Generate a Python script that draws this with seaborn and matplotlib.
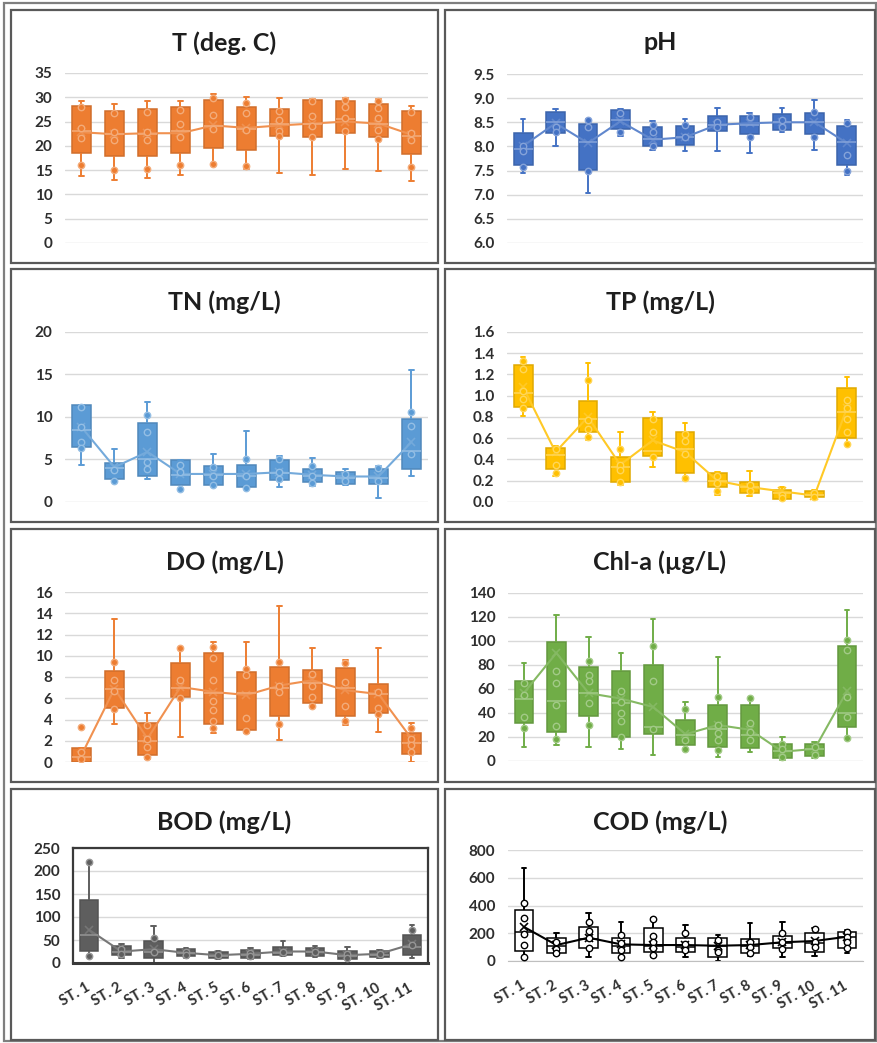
import numpy as np
import pandas as pd
import matplotlib
matplotlib.use("Agg")
import matplotlib.pyplot as plt
import matplotlib.colors as mcolors
from matplotlib.patches import Rectangle
import seaborn as sns

sns.set_style("white")
plt.rcParams['font.family'] = ['Lato', 'DejaVu Sans']

W, H = 878, 1043
stations = ["ST. %d" % i for i in range(1, 12)]

# ---- T (deg. C)
t_lo = [13.7, 13.0, 13.4, 14.1, 16.1, 15.2, 14.4, 14.1, 15.2, 14.8, 12.8]
t_q1 = [18.5, 18.0, 18.0, 18.5, 19.6, 19.2, 22.1, 21.8, 22.6, 21.8, 18.3]
t_med = [23.0, 22.5, 22.5, 23.0, 24.0, 23.5, 24.5, 24.5, 25.5, 24.5, 22.0]
t_q3 = [28.2, 27.2, 27.6, 27.9, 29.4, 28.1, 27.6, 29.4, 29.2, 28.6, 27.2]
t_hi = [29.3, 28.6, 29.2, 29.2, 30.7, 30.0, 29.9, 29.6, 29.9, 29.6, 28.3]
t_mean = [22.8, 22.4, 22.6, 22.6, 24.2, 23.7, 24.2, 24.6, 25.0, 24.6, 22.3]
t_pts = [[28.0, 23.7, 21.6, 16.0], [26.8, 22.8, 21.3, 15.0], [27.0, 22.8, 21.3, 15.2],
         [27.3, 24.6, 21.8, 16.0], [29.8, 26.4, 23.5, 16.3], [28.8, 26.8, 23.3, 15.8],
         [27.1, 25.4, 23.1, 22.0], [29.2, 26.1, 24.0, 21.8], [29.5, 28.1, 25.7, 23.0],
         [29.3, 27.8, 25.7, 23.3, 21.4], [27.0, 22.6, 21.3, 15.6]]

# ---- pH
ph_lo = [7.45, 8.00, 7.03, 8.22, 7.92, 7.90, 7.90, 7.86, 8.30, 7.93, 7.41]
ph_q1 = [7.62, 8.27, 7.52, 8.36, 8.00, 8.02, 8.32, 8.26, 8.34, 8.26, 7.62]
ph_med = [7.95, 8.50, 8.10, 8.55, 8.15, 8.20, 8.45, 8.45, 8.50, 8.50, 8.10]
ph_q3 = [8.27, 8.71, 8.46, 8.76, 8.40, 8.43, 8.62, 8.64, 8.67, 8.70, 8.43]
ph_hi = [8.57, 8.78, 8.57, 8.77, 8.52, 8.57, 8.80, 8.69, 8.80, 8.96, 8.54]
ph_mean = [8.01, 8.48, 8.07, 8.52, 8.14, 8.19, 8.45, 8.48, 8.50, 8.50, 8.07]
ph_pts = [[8.00, 7.90, 7.58], [8.40, 8.30], [8.54, 8.40, 7.50], [8.70, 8.30],
          [8.45, 8.30, 8.00], [8.45, 8.20], [8.50, 8.40], [8.60, 8.20],
          [8.55, 8.40], [8.72, 8.20], [8.48, 7.83, 7.50]]

# ---- TN (mg/L)
tn_lo = [4.3, 2.3, 2.75, 1.5, 1.88, 1.5, 1.76, 1.88, 1.96, 0.5, 3.06]
tn_q1 = [6.47, 2.75, 3.06, 2.04, 1.96, 1.76, 2.55, 2.35, 2.16, 2.08, 3.84]
tn_med = [8.5, 4.0, 5.0, 3.2, 3.2, 3.0, 3.4, 3.0, 2.8, 2.8, 6.0]
tn_q3 = [11.37, 4.6, 9.3, 4.9, 4.2, 4.4, 4.9, 3.84, 3.5, 3.84, 9.8]
tn_hi = [11.45, 6.2, 11.8, 4.9, 5.6, 8.4, 5.4, 5.2, 3.9, 4.2, 15.5]
tn_mean = [8.8, 4.1, 5.9, 3.3, 3.3, 3.3, 3.5, 3.2, 3.0, 3.0, 7.06]
tn_pts = [[11.2, 8.8, 7.1, 6.3], [3.8, 2.5], [10.2, 8.2, 4.7, 3.9], [4.4, 3.5, 1.5],
          [4.1, 3.0, 2.0], [5.0, 3.0, 1.6], [5.1, 3.5, 2.7], [4.2, 3.0, 2.2],
          [3.3, 2.5], [4.0, 2.5], [10.6, 8.9, 5.7]]

# ---- TP (mg/L)
tp_lo = [0.81, 0.24, 0.58, 0.16, 0.33, 0.21, 0.07, 0.06, 0.02, 0.03, 0.54]
tp_q1 = [0.89, 0.31, 0.66, 0.19, 0.43, 0.27, 0.14, 0.08, 0.03, 0.05, 0.60]
tp_med = [1.03, 0.44, 0.78, 0.33, 0.48, 0.50, 0.20, 0.14, 0.08, 0.07, 0.85]
tp_q3 = [1.29, 0.51, 0.95, 0.42, 0.79, 0.66, 0.27, 0.19, 0.11, 0.10, 1.07]
tp_hi = [1.36, 0.53, 1.31, 0.66, 0.85, 0.74, 0.28, 0.29, 0.14, 0.11, 1.18]
tp_mean = [1.08, 0.47, 0.80, 0.35, 0.58, 0.47, 0.20, 0.14, 0.10, 0.06, 0.88]
tp_pts = [[1.33, 1.25, 1.04, 0.97, 0.88], [0.50, 0.35, 0.27], [1.15, 0.77, 0.69, 0.61],
          [0.50, 0.35, 0.30, 0.19], [0.78, 0.66, 0.42], [0.64, 0.57, 0.45, 0.23],
          [0.24, 0.18, 0.10], [0.16, 0.10], [0.07, 0.04], [0.08, 0.05],
          [0.96, 0.88, 0.78, 0.66, 0.55]]

# ---- DO (mg/L)
do_lo = [0.0, 3.6, 0.3, 2.4, 2.7, 2.7, 2.1, 5.2, 3.5, 2.8, 0.0]
do_q1 = [0.0, 5.1, 0.7, 6.1, 3.6, 3.0, 4.3, 5.6, 4.3, 4.6, 0.8]
do_med = [0.5, 6.9, 2.0, 7.0, 6.5, 6.5, 7.0, 7.4, 7.0, 6.4, 1.8]
do_q3 = [1.3, 8.6, 3.7, 9.3, 10.3, 8.5, 8.9, 8.7, 8.85, 7.3, 2.7]
do_hi = [1.3, 13.5, 4.6, 10.7, 11.3, 11.3, 14.65, 10.7, 9.6, 10.7, 3.7]
do_mean = [0.65, 6.9, 2.2, 7.06, 6.6, 6.3, 7.2, 7.7, 6.75, 6.4, 2.2]
do_pts = [[3.3, 0.9, 0.3], [9.4, 7.7, 6.7, 5.0], [3.5, 2.2, 1.4, 0.5], [10.7, 7.7, 6.0],
          [10.8, 9.8, 7.7, 5.7, 4.9, 3.9, 3.2], [8.8, 8.2, 4.1, 2.9], [9.4, 7.2, 6.6, 3.6],
          [8.3, 7.2, 6.1, 5.3], [9.3, 7.5, 5.3, 3.9], [6.6, 5.1, 4.5], [3.2, 2.2, 1.6, 0.9]]

# ---- Chl-a (ug/L)
chl_lo = [12, 13.4, 12, 9.7, 5, 9.2, 3.6, 7.8, 0.8, 2.2, 19]
chl_q1 = [31.4, 24, 37.6, 20.3, 22.5, 13.4, 12, 10.6, 2.2, 4.5, 28]
chl_med = [52, 50, 57, 48, 28, 22, 27, 22, 8, 10, 40]
chl_q3 = [67, 99, 78, 74.6, 80, 34.2, 46.8, 46.8, 14.2, 14, 95.5]
chl_hi = [82, 122, 103, 90, 118, 49.5, 87, 52.3, 20.3, 16, 125.5]
chl_mean = [57, 90, 56.5, 52, 45, 22.3, 30, 26, 7.8, 10, 58]
chl_pts = [[65, 55, 37, 27.3], [75, 64.6, 46.8, 29.5, 18.4], [83, 72, 67, 48, 30],
           [58.7, 49.5, 39.8, 33, 20], [95.5, 67, 27], [43.4, 17.5, 10],
           [53, 30, 23, 17.5, 9.2], [52.3, 32, 24.5, 17.5], [14.5, 10, 3], [12, 5],
           [101, 92.7, 53.7, 37, 19]]

# ---- BOD (mg/L)
bod_lo = [14.5, 11, 0, 11, 9.4, 9.4, 14.5, 12, 0, 11, 11]
bod_q1 = [27, 18, 11, 16, 11, 11, 17, 14.5, 9.4, 12, 17]
bod_med = [60, 25, 25, 22, 15, 18, 22, 24, 15, 18, 35]
bod_q3 = [138, 36, 47, 31, 25, 29, 34, 33, 27, 27, 60]
bod_hi = [220, 41, 80, 33, 27, 33, 47, 36, 34, 29, 83]
bod_mean = [72, 25, 30, 22, 17, 20, 25, 25, 17, 20, 41]
bod_pts = [[220, 14.5], [30, 20], [54, 25], [25, 18], [18], [22, 15], [25], [25],
           [20, 10], [20], [72, 40]]

# ---- COD (mg/L)
cod_lo = [19, 43, 31, 31, 31, 31, 0, 38, 31, 38, 55]
cod_q1 = [74, 60, 91, 55, 67, 67, 31, 55, 91, 67, 91]
cod_med = [210, 110, 160, 110, 110, 100, 110, 110, 130, 130, 170]
cod_q3 = [368, 168, 247, 168, 235, 168, 168, 159, 183, 200, 211]
cod_hi = [668, 200, 348, 283, 307, 260, 187, 271, 283, 235, 223]
cod_mean = [245, 115, 168, 120, 115, 115, 110, 115, 135, 144, 175]
cod_pts = [[415, 312, 192, 115, 31], [140, 90, 60], [280, 216, 163, 91], [187, 127, 79, 31],
           [303, 183, 139, 96, 43], [204, 120, 80], [151, 79, 67], [140, 100, 60],
           [204, 139, 90], [230, 139, 100], [211, 175, 139, 91]]


def tint(c, f):
    r = np.array(mcolors.to_rgb(c))
    return tuple(r + (1 - r) * f)


def shade(c, f):
    return tuple(np.array(mcolors.to_rgb(c)) * (1 - f))


# title, stats, panel frame (x0, y0, x1, y1), axes (x0, y0, x1, y1), ylim, step, fmt, face
panels = [
    ("T (deg. C)", (t_lo, t_q1, t_med, t_q3, t_hi, t_mean, t_pts), (11, 10, 438, 263),
     (65, 73, 428, 243), (0, 35), 5, "%d", "#ED7D31"),
    ("pH", (ph_lo, ph_q1, ph_med, ph_q3, ph_hi, ph_mean, ph_pts), (445, 10, 875, 263),
     (507, 74, 863, 243), (6, 9.5), 0.5, "%.1f", "#4472C4"),
    ("TN (mg/L)", (tn_lo, tn_q1, tn_med, tn_q3, tn_hi, tn_mean, tn_pts), (11, 269, 438, 522),
     (65, 332, 428, 502), (0, 20), 5, "%d", "#5B9BD5"),
    ("TP (mg/L)", (tp_lo, tp_q1, tp_med, tp_q3, tp_hi, tp_mean, tp_pts), (445, 269, 875, 522),
     (507, 332, 863, 502), (0, 1.6), 0.2, "%.1f", "#FFC000"),
    ("DO (mg/L)", (do_lo, do_q1, do_med, do_q3, do_hi, do_mean, do_pts), (11, 529, 438, 782),
     (65, 592, 428, 762), (0, 16), 2, "%d", "#ED7D31"),
    ("Chl-a (\u00b5g/L)", (chl_lo, chl_q1, chl_med, chl_q3, chl_hi, chl_mean, chl_pts),
     (445, 529, 875, 782), (508, 593, 863, 761), (0, 140), 20, "%d", "#70AD47"),
    ("BOD (mg/L)", (bod_lo, bod_q1, bod_med, bod_q3, bod_hi, bod_mean, bod_pts),
     (11, 789, 438, 1040), (73, 848, 428, 963), (0, 250), 50, "%d", "#5E5E5E"),
    ("COD (mg/L)", (cod_lo, cod_q1, cod_med, cod_q3, cod_hi, cod_mean, cod_pts),
     (445, 789, 875, 1040), (508, 850, 863, 961), (0, 800), 200, "%d", "white"),
]

fig = plt.figure(figsize=(W / 100, H / 100), dpi=100)
fig.patch.set_facecolor("white")


def fig_rect(x0, y0, x1, y1):
    return (x0 / W, 1 - y1 / H, (x1 - x0) / W, (y1 - y0) / H)


# outer frame
fig.add_artist(Rectangle((4 / W, 1 - 1041 / H), 872 / W, 1038 / H, transform=fig.transFigure,
                         fill=False, ec="#7F7F7F", lw=1.6))

for title, stats, frame, axbox, ylim, step, fmt, face in panels:
    lo, q1, med, q3, hi, mean, pts = stats
    fx0, fy0, fx1, fy1 = frame
    x, y, w, h = fig_rect(fx0, fy0, fx1, fy1)
    fig.add_artist(Rectangle((x, y), w, h, transform=fig.transFigure,
                             fill=False, ec="#595959", lw=1.6))
    fig.text((fx0 + fx1) / 2 / W, 1 - (fy0 + 33) / H, title, ha="center", va="center",
             fontsize=18, fontweight="bold", color="#1E1E1E")

    ax = fig.add_axes(fig_rect(*axbox))
    is_cod = face == "white"
    if is_cod:
        edge, light, line = "black", "black", "black"
    else:
        edge = shade(face, 0.12)
        light = tint(face, 0.35)
        line = tint(face, 0.15)

    box_df = pd.DataFrame({
        "station": np.repeat(stations, 5),
        "value": np.column_stack([lo, q1, med, q3, hi]).ravel(),
    })
    pts_df = pd.DataFrame({
        "station": [s for s, p in zip(stations, pts) for _ in p],
        "value": [v for p in pts for v in p],
    })

    sns.boxplot(data=box_df, x="station", y="value", order=stations, whis=(0, 100),
                width=0.58, color=face, saturation=1, linecolor=edge, linewidth=1.1,
                showfliers=False, capwidths=0.14,
                medianprops=dict(color=light, linewidth=1.1),
                whiskerprops=dict(color=edge if is_cod else face, linewidth=1.4),
                capprops=dict(color=edge if is_cod else face, linewidth=1.4),
                ax=ax)
    sns.pointplot(x=stations, y=mean, order=stations, color=line, markers="x",
                  linestyles="-", errorbar=None, markersize=6, linewidth=1.5,
                  markeredgewidth=1.2, ax=ax)
    sns.stripplot(data=pts_df, x="station", y="value", order=stations, jitter=False,
                  color=face, edgecolor=light, linewidth=1.0, size=4.6, ax=ax, zorder=5)

    ax.set_xlim(-0.5, 10.5)
    ax.set_ylim(ylim[0], ylim[1])
    ticks = np.arange(ylim[0], ylim[1] + step / 2, step)
    ax.set_yticks(ticks)
    ax.set_yticklabels([fmt % t for t in ticks], fontsize=11, fontweight="bold",
                       color="#2E2E2E")
    ax.tick_params(axis="y", length=0, pad=9)
    ax.yaxis.grid(True, color="#D9D9D9", linewidth=1.0)
    ax.xaxis.grid(False)
    ax.set_axisbelow(True)
    ax.set_xlabel("")
    ax.set_ylabel("")
    for sp in ax.spines.values():
        sp.set_visible(False)

    if title.startswith(("BOD", "COD")):
        ax.set_xticks(range(11))
        ax.set_xticklabels(stations, rotation=30, ha="right", va="center",
                           rotation_mode="anchor", fontsize=10.5, fontweight="bold",
                           color="#2E2E2E")
        ax.set_xticks(np.arange(-0.5, 11, 1), minor=True)
        ax.tick_params(axis="x", which="major", length=0, pad=17)
        if title.startswith("BOD"):
            for sp in ax.spines.values():
                sp.set_visible(True)
                sp.set_color("#3A3A3A")
                sp.set_linewidth(1.6)
            ax.spines["bottom"].set_linewidth(2.2)
            ax.tick_params(axis="x", which="minor", length=5, direction="in",
                           color="#C8C8C8", width=1)
        else:
            ax.spines["bottom"].set_visible(True)
            ax.spines["bottom"].set_color("#BFBFBF")
            ax.tick_params(axis="x", which="minor", length=5, direction="out",
                           color="#BFBFBF", width=1)
    else:
        ax.set_xticks([])

fig.savefig("out.png", dpi=100)
